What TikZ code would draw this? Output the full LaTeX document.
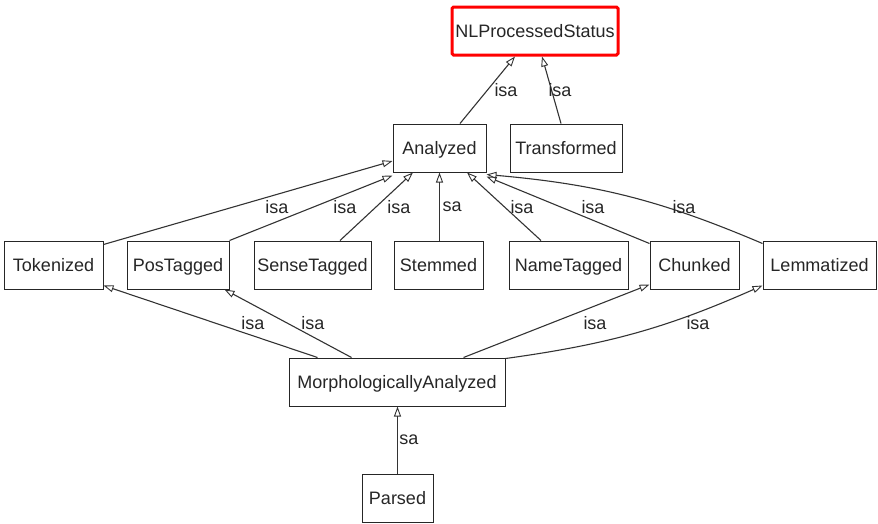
\documentclass[tikz,border=0pt]{standalone}
\usepackage{fontspec}
\setmainfont{Liberation Sans}
\usetikzlibrary{arrows.meta,calc}

\tikzset{
  cls/.style={draw=black!85, line width=1pt, fill=white, inner sep=0pt,
    minimum height=48pt, text height=16pt, text depth=4pt,
    font=\fontsize{18}{20}\selectfont, text=black!85},
  root/.style={cls, draw=red, line width=3pt, rounded corners=1.5pt},
  isa/.style={draw=black!80, line width=1.1pt,
    -{Triangle[open, length=10pt, width=7pt, line width=0.9pt]}},
  lbl/.style={inner sep=0pt, font=\fontsize{18}{20}\selectfont, text=black!85}
}

\begin{document}
\begin{tikzpicture}[x=1pt, y=-1pt]
  \useasboundingbox (0,0) rectangle (878,523);

  % class boxes
  \node[root, minimum width=166pt] (nlp) at (535,31) {NLProcessedStatus};
  \node[cls, minimum width=93pt]  (ana) at (439.5,148) {Analyzed};
  \node[cls, minimum width=112pt] (tra) at (566,148) {Transformed};

  \node[cls, minimum width=99pt]  (tok) at (53.5,265) {Tokenized};
  \node[cls, minimum width=102pt] (pos) at (178,265) {PosTagged};
  \node[cls, minimum width=117pt] (sen) at (312.5,265) {SenseTagged};
  \node[cls, minimum width=89pt]  (stm) at (438.5,265) {Stemmed};
  \node[cls, minimum width=119pt] (nam) at (568.5,265) {NameTagged};
  \node[cls, minimum width=89pt]  (chu) at (694.5,265) {Chunked};
  \node[cls, minimum width=113pt] (lem) at (819.5,265) {Lemmatized};

  \node[cls, minimum width=216pt] (mor) at (397,382) {MorphologicallyAnalyzed};
  \node[cls, minimum width=71pt]  (par) at (397.5,498) {Parsed};

  % generalisation links
  \draw[isa] ([xshift=20.5pt]ana.north) -- ([xshift=-20pt]nlp.south);
  \draw[isa] ([xshift=-5pt]tra.north) -- ([xshift=7pt]nlp.south);

  \draw[isa] ([yshift=-4pt]tok.north east) -- ([yshift=-13pt]ana.west);
  \draw[isa] (pos.north east) -- ([yshift=-3pt]ana.south west);
  \draw[isa] ([xshift=27.5pt]sen.north) -- ([xshift=-26.5pt]ana.south);
  \draw[isa] ([xshift=1pt]stm.north) -- ([xshift=1pt]stm.north |- ana.south);
  \draw[isa] ([xshift=-27.5pt]nam.north) -- ([xshift=27.5pt]ana.south);
  \draw[isa] ([yshift=-3pt]chu.north west) -- ([yshift=-4pt]ana.south east);
  \draw[isa] ([yshift=-3pt]lem.north west) to[bend right=9] ([yshift=-2pt]ana.south east);

  \draw[isa] ([xshift=29pt]mor.north west) -- ([yshift=4pt]tok.south east);
  \draw[isa] ([xshift=63pt]mor.north west) -- ([xshift=-5pt]pos.south east);
  \draw[isa] ([xshift=-42pt]mor.north east) -- ([yshift=5pt]chu.south west);
  \draw[isa] ([yshift=-1pt]mor.north east) to[bend right=8] ([yshift=4pt]lem.south west);

  \draw[isa] (par.north) -- (par.north |- mor.south);

  % link labels
  \node[lbl] (l1)  at (506,90)  {isa};
  \node[lbl] (l2)  at (560,90)  {isa};
  \node[lbl] (l3)  at (277,207) {isa};
  \node[lbl] (l4)  at (345,207) {isa};
  \node[lbl] (l5)  at (399,207) {isa};
  \node[lbl] (l6)  at (452,207) {sa};
  \node[lbl] (l7)  at (522,207) {isa};
  \node[lbl] (l8)  at (593,207) {isa};
  \node[lbl] (l9)  at (684,207) {isa};
  \node[lbl] (l10) at (253,323) {isa};
  \node[lbl] (l11) at (313,323) {isa};
  \node[lbl] (l12) at (595,323) {isa};
  \node[lbl] (l13) at (698,323) {isa};
  \node[lbl] (l14) at (409,440) {sa};
\end{tikzpicture}
\end{document}
